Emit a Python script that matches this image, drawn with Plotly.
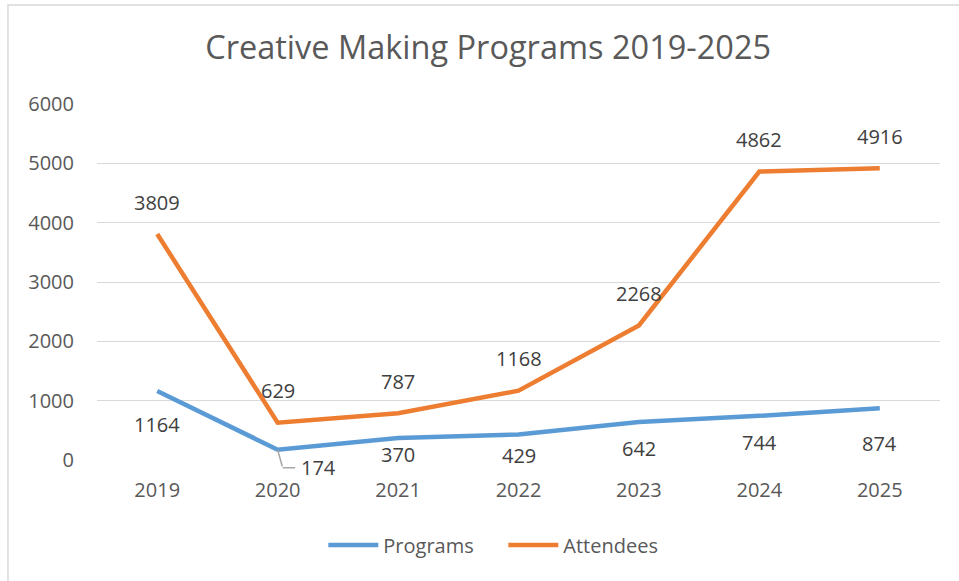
import plotly.graph_objects as go

years = ["2019", "2020", "2021", "2022", "2023", "2024", "2025"]
programs = [1164, 174, 370, 429, 642, 744, 874]
attendees = [3809, 629, 787, 1168, 2268, 4862, 4916]

# label offsets (pixels) as placed in the original chart
prog_label_shift = [-34, None, -16, -21, -27, -27, -35]
att_label_shift = 32

FONT = "Open Sans"
TXT = "#404040"
AX = "#595959"
BLUE = "#5B9BD5"
ORANGE = "#ED7D31"
LEAD = "#A6A6A6"

fig = go.Figure()
fig.add_trace(go.Scatter(x=years, y=programs, mode="lines", name="Programs",
                         line=dict(color=BLUE, width=4.5)))
fig.add_trace(go.Scatter(x=years, y=attendees, mode="lines", name="Attendees",
                         line=dict(color=ORANGE, width=4.5)))

lab_font = dict(family=FONT, size=20, color=TXT)
ann = []
# category index positions (numeric-looking category names need the index)
for i, v in enumerate(attendees):
    ann.append(dict(x=i, y=v, xref="x", yref="y", text=str(v), showarrow=False,
                    yshift=att_label_shift, font=lab_font))
for i, (v, s) in enumerate(zip(programs, prog_label_shift)):
    if s is None:
        ann.append(dict(x=i, y=v, xref="x", yref="y", text=str(v), showarrow=False,
                        xshift=41, yshift=-18, font=lab_font))
        # elbow leader line
        ann.append(dict(x=i, y=v, xref="x", yref="y", text="", showarrow=True,
                        arrowhead=0, arrowwidth=1.5, arrowcolor=LEAD, ax=5, ay=18,
                        standoff=0, startstandoff=0))
        ann.append(dict(x=i, y=v, xref="x", yref="y", text="", showarrow=True,
                        arrowhead=0, arrowwidth=1.5, arrowcolor=LEAD, ax=14, ay=0,
                        xshift=5, yshift=-18, standoff=0, startstandoff=0))
    else:
        ann.append(dict(x=i, y=v, xref="x", yref="y", text=str(v), showarrow=False,
                        yshift=s, font=lab_font))

shapes = [
    dict(type="rect", xref="paper", yref="paper", x0=-0.1056, x1=1.03, y0=-0.36, y1=1.278,
         line=dict(color="#D9D9D9", width=1.5), fillcolor="rgba(0,0,0,0)", layer="below"),
]

fig.update_layout(
    width=959, height=581,
    margin=dict(l=97, r=19, t=104, b=121),
    paper_bgcolor="white", plot_bgcolor="white",
    title=dict(text="Creative Making Programs 2019-2025", x=0.464, xref="paper",
               xanchor="center", y=1 - 48 / 581, yref="container", yanchor="middle",
               font=dict(family=FONT, size=32.5, color=AX)),
    xaxis=dict(type="category", range=[-0.5, 6.5], showgrid=False, zeroline=False,
               showline=False, ticks="", ticklabelstandoff=16,
               tickfont=dict(family=FONT, size=20, color=AX)),
    yaxis=dict(range=[0, 6000], dtick=1000, showgrid=True, gridcolor="#D9D9D9",
               gridwidth=1.3, zeroline=False, showline=False, ticks="",
               ticklabelstandoff=22, tickfont=dict(family=FONT, size=20, color=AX)),
    legend=dict(orientation="h", x=0.482, xanchor="center", y=-0.239, yanchor="middle",
                font=dict(family=FONT, size=20, color=AX), itemwidth=50,
                entrywidth=115),
    annotations=ann,
    shapes=shapes,
    showlegend=True,
)

fig.write_html("out.html")
